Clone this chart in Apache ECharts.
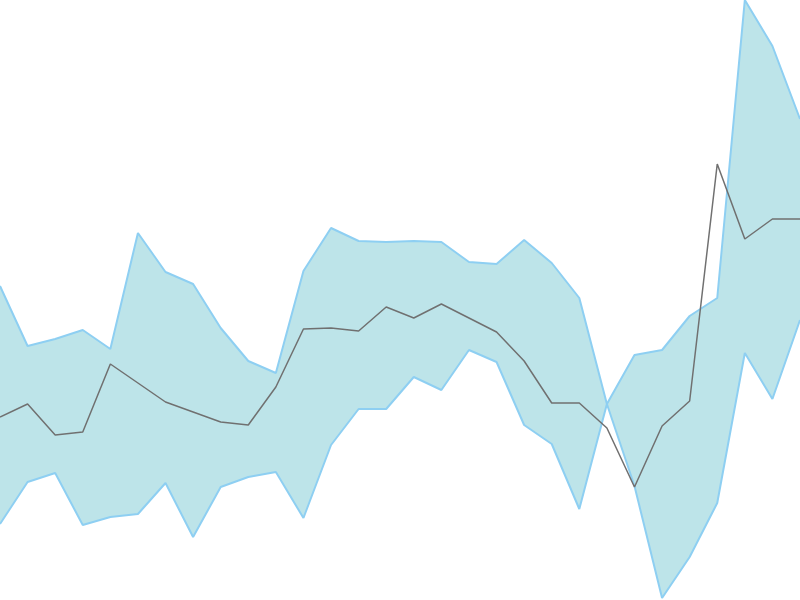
<!DOCTYPE html>
<html>
<head>
<meta charset="utf-8">
<script src="https://cdn.jsdelivr.net/npm/echarts@6/dist/echarts.min.js"></script>
<style>
  html, body { margin: 0; padding: 0; background: #fff; }
  #chart { width: 800px; height: 600px; }
</style>
</head>
<body>
<div id="chart"></div>
<script>
const categories = [1,2,3,4,5,6,7,8,9,10,11,12,13,14,15,16,17,18,19,20,21,22,23,24,25,26,27,28,29,30];
// first band edge (upper on the left, crosses at point 23)
const edgeA = [31.4, 25.4, 26.1, 27.0, 25.1, 36.7, 32.8, 31.6, 27.2, 23.9, 22.7, 32.9, 37.2, 35.9, 35.8,
               35.9, 35.8, 33.8, 33.6, 36.0, 33.7, 30.2, 19.6, 11.4, 0.2, 4.3, 9.7, 24.7, 20.1, 28.0];
// second band edge
const edgeB = [7.6, 11.8, 12.7, 7.5, 8.3, 8.6, 11.7, 6.3, 11.3, 12.3, 12.8, 8.2, 15.5, 19.1, 19.1,
               22.3, 21.0, 25.0, 23.8, 17.5, 15.6, 9.1, 19.6, 24.5, 25.0, 28.4, 30.2, 60.0, 55.4, 48.1];
// middle line
const middle = [18.3, 19.6, 16.5, 16.8, 23.6, 21.7, 19.8, 18.8, 17.8, 17.5, 21.3, 27.1, 27.2, 26.9, 29.3,
                28.2, 29.6, 28.2, 26.8, 23.9, 19.7, 19.7, 17.2, 11.3, 17.4, 19.9, 43.6, 36.1, 38.1, 38.1];

const chart = echarts.init(document.getElementById('chart'));
const bandDiff = edgeA.map((v, i) => +(v - edgeB[i]).toFixed(2));
const edgeColor = '#8ecff2';

chart.setOption({
  animation: false,
  grid: { left: 0, right: 0, top: 0, bottom: 0 },
  xAxis: {
    type: 'category',
    data: categories,
    boundaryGap: false,
    show: false
  },
  yAxis: {
    type: 'value',
    min: 0,
    max: 60,
    show: false
  },
  series: [
    {
      type: 'line', data: edgeB, stack: 'band', stackStrategy: 'all',
      symbol: 'none', lineStyle: { opacity: 0 }, z: 1
    },
    {
      type: 'line', data: bandDiff, stack: 'band', stackStrategy: 'all',
      symbol: 'none', lineStyle: { opacity: 0 },
      areaStyle: { color: '#bde4e9', opacity: 1 }, z: 1
    },
    {
      type: 'line', data: edgeA, symbol: 'none',
      lineStyle: { color: edgeColor, width: 2 }, z: 2
    },
    {
      type: 'line', data: edgeB, symbol: 'none',
      lineStyle: { color: edgeColor, width: 2 }, z: 2
    },
    {
      type: 'line', data: middle, symbol: 'none',
      lineStyle: { color: '#707070', width: 1.5 }, z: 3
    }
  ]
});
</script>
</body>
</html>
